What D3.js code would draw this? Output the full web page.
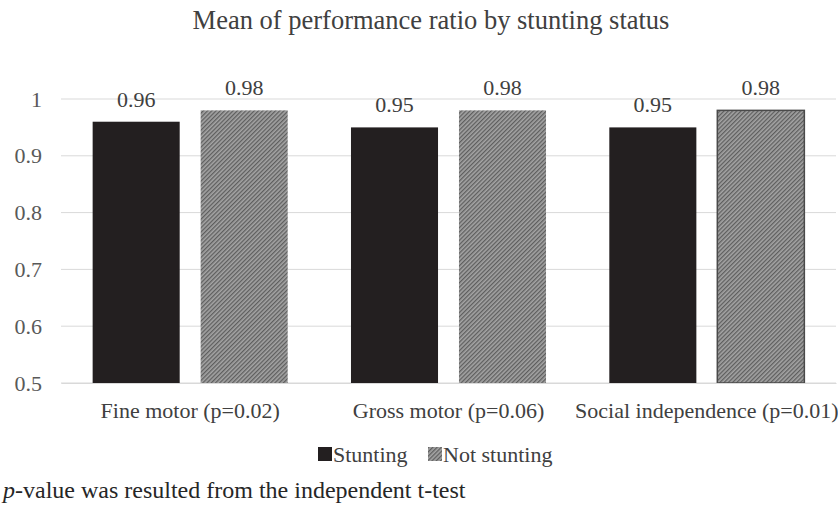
<!DOCTYPE html>
<html>
<head>
<meta charset="utf-8">
<script src="https://cdn.jsdelivr.net/npm/d3@7"></script>
<style>
  body { margin: 0; background: #fff; }
</style>
</head>
<body>
<script>
var width = 838, height = 506;
var margin = {left: 61, right: 2, top: 99, bottom: 123};
var serif = "'Liberation Serif', 'Times New Roman', serif";

// data
var categories = ["Fine motor (p=0.02)", "Gross motor (p=0.06)", "Social independence (p=0.01)"];
var series = ["Stunting", "Not stunting"];
var stunting = [0.96, 0.95, 0.95];
var notStunting = [0.98, 0.98, 0.98];
var yTicks = [0.5, 0.6, 0.7, 0.8, 0.9, 1];

var data = categories.map(function(c, i) {
    return {category: c, values: [
        {series: "Stunting", value: stunting[i]},
        {series: "Not stunting", value: notStunting[i]}
    ]};
});

var svg = d3.select("body").append("svg")
    .attr("width", width)
    .attr("height", height)
    .style("font-family", serif);

// hatch pattern for "Not stunting"
var defs = svg.append("defs");
var pat = defs.append("pattern")
    .attr("id", "hatch")
    .attr("patternUnits", "userSpaceOnUse")
    .attr("width", 3)
    .attr("height", 3)
    .attr("patternTransform", "rotate(-45)");
pat.append("rect").attr("width", 3).attr("height", 3).attr("fill", "#a4a4a4");
pat.append("rect").attr("width", 3).attr("height", 1.3).attr("fill", "#5e5e5e");

var x0 = d3.scaleBand()
    .domain(categories)
    .range([margin.left, width - margin.right])
    .paddingInner(0.245)
    .paddingOuter(0.1225);

var x1 = d3.scaleBand()
    .domain(series)
    .range([0, x0.bandwidth()])
    .paddingInner(0.194);

var y = d3.scaleLinear()
    .domain([0.5, 1])
    .range([height - margin.bottom, margin.top]);

// gridlines
svg.append("g")
    .selectAll("line")
    .data(yTicks)
    .enter().append("line")
        .attr("x1", margin.left)
        .attr("x2", width - margin.right)
        .attr("y1", d => y(d))
        .attr("y2", d => y(d))
        .style("stroke", "#d9d9d9")
        .style("stroke-width", 1);

// y axis labels
svg.append("g")
    .attr("transform", "translate(" + (margin.left - 19) + ",0)")
    .call(d3.axisLeft(y).tickValues(yTicks).tickSize(0).tickFormat(d3.format("")))
    .call(g => g.select(".domain").remove())
    .call(g => g.attr("font-family", null))
    .selectAll("text")
        .attr("x", 0)
        .style("font-family", serif)
        .style("font-size", "22px")
        .style("fill", "#595959");

// bars
var groups = svg.selectAll(".group")
    .data(data)
    .enter().append("g")
        .attr("class", "group")
        .attr("transform", d => "translate(" + x0(d.category) + ",0)");

groups.selectAll("rect")
    .data(d => d.values.map(v => Object.assign({category: d.category}, v)))
    .enter().append("rect")
        .attr("x", d => x1(d.series))
        .attr("y", d => y(d.value))
        .attr("width", x1.bandwidth())
        .attr("height", d => y(0.5) - y(d.value))
        .style("fill", d => d.series == "Stunting" ? "#231f20" : "url(#hatch)")
        .style("stroke", d => (d.series == "Not stunting" && d.category == categories[2]) ? "#4a4a4a" : "none")
        .style("stroke-width", 1.5);

// value labels
groups.selectAll(".val")
    .data(d => d.values)
    .enter().append("text")
        .attr("class", "val")
        .attr("x", d => x1(d.series) + x1.bandwidth() / 2)
        .attr("y", d => y(d.value) - 15)
        .attr("text-anchor", "middle")
        .style("font-family", serif)
        .style("font-size", "22px")
        .style("fill", "#404040")
        .text(d => d3.format(".2f")(d.value));

// x axis
svg.append("g")
    .attr("transform", "translate(0," + (height - margin.bottom) + ")")
    .call(d3.axisBottom(x0).tickSize(0).tickPadding(19))
    .call(g => g.attr("font-family", null))
    .call(g => g.select(".domain").style("stroke", "#d9d9d9"))
    .selectAll("text")
        .style("font-family", serif)
        .style("font-size", "22px")
        .style("fill", "#404040");

// title
svg.append("text")
    .attr("x", 431)
    .attr("y", 29)
    .attr("text-anchor", "middle")
    .style("font-family", serif)
    .style("font-size", "26.5px")
    .style("fill", "#404040")
    .text("Mean of performance ratio by stunting status");

// legend
var legend = svg.append("g").attr("transform", "translate(318,447)");
var lx = [0, 110];
series.forEach(function(s, i) {
    var g = legend.append("g").attr("transform", "translate(" + lx[i] + ",0)");
    g.append("rect")
        .attr("width", 14).attr("height", 14)
        .style("fill", s == "Stunting" ? "#231f20" : "url(#hatch)");
    g.append("text")
        .attr("x", 15).attr("y", 15)
        .style("font-family", serif)
        .style("font-size", "22px")
        .style("fill", "#404040")
        .text(s);
});

// footnote
var note = svg.append("text")
    .attr("x", 3)
    .attr("y", 498)
    .style("font-family", serif)
    .style("font-size", "24px")
    .style("fill", "#262626");
note.append("tspan").style("font-style", "italic").text("p");
note.append("tspan").text("-value was resulted from the independent t-test");
</script>
</body>
</html>
